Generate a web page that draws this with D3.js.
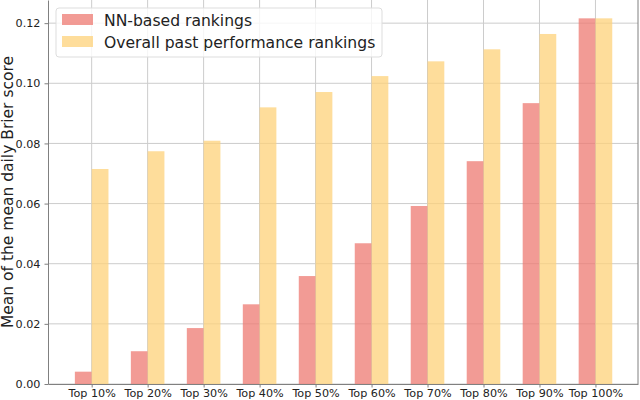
<!DOCTYPE html>
<html>
<head>
<meta charset="utf-8">
<script src="https://cdn.jsdelivr.net/npm/d3@7"></script>
<style>
  body { margin: 0; background: #fff; }
  svg { font-family: "DejaVu Sans", sans-serif; }
  .grid line { stroke: #cccccc; stroke-width: 1; }
  .axis path, .axis line { stroke: #808080; }
  .axis text { fill: #222; font-size: 11.2px; font-family: "DejaVu Sans", sans-serif; }
</style>
</head>
<body>
<script>
var categories = ["Top 10%", "Top 20%", "Top 30%", "Top 40%", "Top 50%", "Top 60%", "Top 70%", "Top 80%", "Top 90%", "Top 100%"];
var nnValues = [0.0041, 0.0109, 0.0186, 0.0265, 0.0359, 0.0468, 0.0592, 0.0741, 0.0934, 0.1216];
var pastValues = [0.0715, 0.0774, 0.0809, 0.0920, 0.0971, 0.1024, 0.1073, 0.1113, 0.1164, 0.1216];
var yTicks = [0, 0.02, 0.04, 0.06, 0.08, 0.10, 0.12];
var seriesNames = ["NN-based rankings", "Overall past performance rankings"];
var colors = ["#ee7a72", "#fdd27a"];

var width = 640, height = 400;
var margin = {top: 0, right: 2, bottom: 16, left: 48};

var svg = d3.select("body").append("svg")
  .attr("width", width)
  .attr("height", height);

var x = d3.scaleLinear()
  .domain([-0.78, 9.76])
  .range([margin.left, width - margin.right]);

var y = d3.scaleLinear()
  .domain([0, 0.1277])
  .range([height - margin.bottom, margin.top]);

var barW = x(0.3) - x(0);

// grid
var grid = svg.append("g").attr("class", "grid");
grid.selectAll(".hg").data(yTicks).enter().append("line")
  .attr("x1", margin.left).attr("x2", width - margin.right)
  .attr("y1", function(d) { return y(d); }).attr("y2", function(d) { return y(d); });
grid.selectAll(".vg").data(categories).enter().append("line")
  .attr("x1", function(d, i) { return x(i); }).attr("x2", function(d, i) { return x(i); })
  .attr("y1", y.range()[0]).attr("y2", y.range()[1]);

// bars
svg.selectAll(".nn").data(nnValues).enter().append("rect")
  .attr("fill", colors[0]).attr("fill-opacity", 0.75)
  .attr("x", function(d, i) { return x(i) - barW; })
  .attr("y", function(d) { return y(d); })
  .attr("width", barW)
  .attr("height", function(d) { return y(0) - y(d); });

svg.selectAll(".past").data(pastValues).enter().append("rect")
  .attr("fill", colors[1]).attr("fill-opacity", 0.75)
  .attr("x", function(d, i) { return x(i); })
  .attr("y", function(d) { return y(d); })
  .attr("width", barW)
  .attr("height", function(d) { return y(0) - y(d); });

// axes
var xAxis = d3.axisBottom(x)
  .tickValues(d3.range(categories.length))
  .tickFormat(function(d) { return categories[d]; })
  .tickSize(3.5).tickSizeOuter(0).tickPadding(2);

svg.append("g").attr("class", "axis")
  .attr("transform", "translate(0," + y(0) + ")")
  .call(xAxis);

var yAxis = d3.axisLeft(y)
  .tickValues(yTicks)
  .tickFormat(d3.format(".2f"))
  .tickSize(3.5).tickSizeOuter(0).tickPadding(4);

svg.append("g").attr("class", "axis")
  .attr("transform", "translate(" + margin.left + ",0)")
  .call(yAxis);

svg.append("line")
  .attr("x1", width - margin.right).attr("x2", width - margin.right)
  .attr("y1", y.range()[0]).attr("y2", y.range()[1])
  .attr("stroke", "#808080");

svg.append("text")
  .attr("transform", "translate(13,192) rotate(-90)")
  .attr("text-anchor", "middle")
  .attr("font-size", "15.5px")
  .attr("fill", "#222")
  .text("Mean of the mean daily Brier score");

// legend
var legend = svg.append("g").attr("transform", "translate(56,8)");
legend.append("rect")
  .attr("width", 326).attr("height", 49).attr("rx", 3)
  .attr("fill", "#fff").attr("fill-opacity", 0.8)
  .attr("stroke", "#dddddd");

var items = legend.selectAll(".item").data(seriesNames).enter().append("g")
  .attr("transform", function(d, i) { return "translate(6," + (6 + i * 22) + ")"; });
items.append("rect")
  .attr("width", 31).attr("height", 11)
  .attr("fill", function(d, i) { return colors[i]; })
  .attr("fill-opacity", 0.75);
items.append("text")
  .attr("x", 42).attr("y", 11.5)
  .attr("font-size", "15.6px")
  .attr("fill", "#222")
  .text(function(d) { return d; });
</script>
</body>
</html>
